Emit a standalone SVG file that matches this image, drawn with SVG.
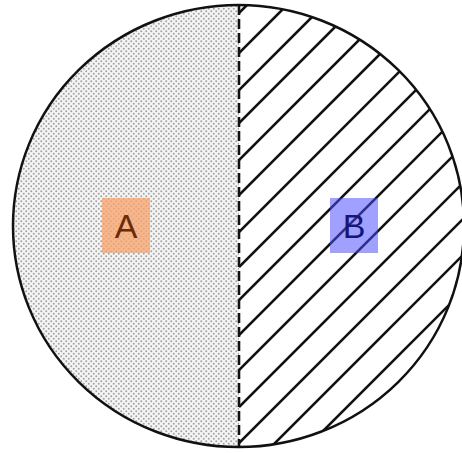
<svg xmlns="http://www.w3.org/2000/svg" width="462" height="453" viewBox="0 0 462 453">
  <style>
    .outline { fill: none; stroke: #111111; stroke-width: 2.5; }
    .divider { fill: none; stroke: #111111; stroke-width: 2.6; stroke-dasharray: 10 4; }
    .hatch { stroke: #111111; stroke-width: 2.6; stroke-linecap: butt; }
    .label { font-family: "Liberation Sans", Arial, sans-serif; font-size: 34px; text-anchor: middle; }
  </style>
  <defs>
    <pattern id="stipple" x="0" y="0" width="5" height="5" patternUnits="userSpaceOnUse">
      <rect width="5" height="5" fill="#f5f5f5"/>
      <circle cx="1.25" cy="1.25" r="1" fill="#a2a2a2"/>
      <circle cx="3.75" cy="3.75" r="1" fill="#a2a2a2"/>
    </pattern>
    <clipPath id="rightHalf">
      <path d="M239,5 A225.5,221 0 0 1 239,447 Z"/>
    </clipPath>
  </defs>
  <rect width="462" height="453" fill="#ffffff"/>

  <g id="region-A-area">
    <path d="M239,5 A225.5,221 0 0 0 239,447 Z" fill="url(#stipple)"/>
  </g>

  <g id="region-B-area" clip-path="url(#rightHalf)">
    <line class="hatch" x1="239" y1="13" x2="262" y2="-10"/>
    <line class="hatch" x1="239" y1="53" x2="302" y2="-10"/>
    <line class="hatch" x1="239" y1="90" x2="339" y2="-10"/>
    <line class="hatch" x1="239" y1="123" x2="372" y2="-10"/>
    <line class="hatch" x1="239" y1="160" x2="409" y2="-10"/>
    <line class="hatch" x1="239" y1="195" x2="444" y2="-10"/>
    <line class="hatch" x1="239" y1="232" x2="481" y2="-10"/>
    <line class="hatch" x1="239" y1="267" x2="516" y2="-10"/>
    <line class="hatch" x1="239" y1="300" x2="549" y2="-10"/>
    <line class="hatch" x1="239" y1="335" x2="584" y2="-10"/>
    <line class="hatch" x1="239" y1="370" x2="619" y2="-10"/>
    <line class="hatch" x1="239" y1="407" x2="656" y2="-10"/>
    <line class="hatch" x1="239" y1="443" x2="692" y2="-10"/>
    <line class="hatch" x1="239" y1="479" x2="728" y2="-10"/>
    <line class="hatch" x1="239" y1="515" x2="764" y2="-10"/>
    <line class="hatch" x1="239" y1="551" x2="800" y2="-10"/>
    <line class="hatch" x1="239" y1="587" x2="836" y2="-10"/>
    <line class="hatch" x1="239" y1="623" x2="872" y2="-10"/>
    <line class="hatch" x1="239" y1="659" x2="908" y2="-10"/>
  </g>

  <g id="connectors">
    <line class="divider" x1="239" y1="5" x2="239" y2="447"/>
  </g>

  <g id="circle">
    <ellipse class="outline" cx="238.5" cy="226" rx="225.5" ry="221"/>
  </g>

  <g id="node-A">
    <rect x="102" y="198" width="48" height="55" fill="#f7a46e" fill-opacity="0.78"/>
    <text class="label" x="126" y="238" fill="#6a2c08">A</text>
  </g>

  <g id="node-B">
    <rect x="330" y="198" width="48" height="55" fill="#4848ff" fill-opacity="0.52"/>
    <text class="label" x="354" y="238" fill="#15157a">B</text>
  </g>
</svg>
